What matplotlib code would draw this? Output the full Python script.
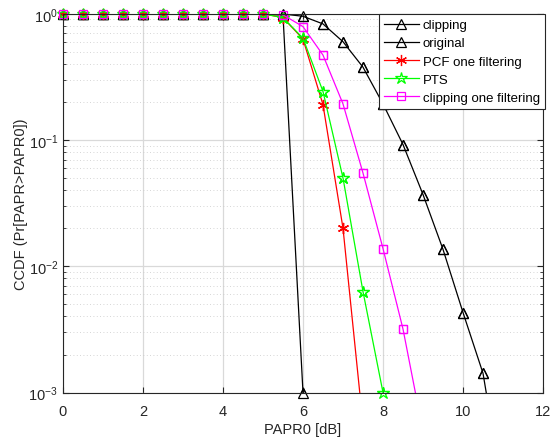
import matplotlib
matplotlib.use("Agg")
import matplotlib.pyplot as plt
import numpy as np

plt.rcParams['font.family'] = ['Liberation Sans', 'DejaVu Sans']
plt.rcParams['mathtext.fontset'] = 'custom'
plt.rcParams['mathtext.rm'] = 'Liberation Sans'

# clipping (steep drop at 6 dB)
x_clip = [0, 0.5, 1, 1.5, 2, 2.5, 3, 3.5, 4, 4.5, 5, 5.5, 6]
y_clip = [1, 1, 1, 1, 1, 1, 1, 1, 1, 1, 1, 0.97, 1e-3]

# original
x_orig = [0, 0.5, 1, 1.5, 2, 2.5, 3, 3.5, 4, 4.5, 5, 5.5, 6, 6.5, 7, 7.5, 8, 8.5, 9, 9.5, 10, 10.5, 11]
y_orig = [1, 1, 1, 1, 1, 1, 1, 1, 1, 1, 1, 0.995, 0.954, 0.83, 0.60, 0.377, 0.193, 0.092,
          0.037, 0.0136, 0.0043, 0.00142, 1.6e-4]

# PCF one filtering
x_pcf = [0, 0.5, 1, 1.5, 2, 2.5, 3, 3.5, 4, 4.5, 5, 5.5, 6, 6.5, 7, 7.5]
y_pcf = [1, 1, 1, 1, 1, 1, 1, 1, 1, 1, 1, 0.93, 0.63, 0.19, 0.020, 5.6e-4]

# PTS
x_pts = [0, 0.5, 1, 1.5, 2, 2.5, 3, 3.5, 4, 4.5, 5, 5.5, 6, 6.5, 7, 7.5, 8]
y_pts = [1, 1, 1, 1, 1, 1, 1, 1, 1, 1, 1, 0.93, 0.64, 0.242, 0.050, 0.0063, 1e-3]

# clipping one filtering
x_cof = [0, 0.5, 1, 1.5, 2, 2.5, 3, 3.5, 4, 4.5, 5, 5.5, 6, 6.5, 7, 7.5, 8, 8.5, 9]
y_cof = [1, 1, 1, 1, 1, 1, 1, 1, 1, 1, 1, 0.98, 0.79, 0.47, 0.193, 0.0547, 0.0138, 0.00318, 4.9e-4]

fig = plt.figure(figsize=(5.51, 4.39), dpi=100)
ax = fig.add_axes([0.1143, 0.1036, 0.8712, 0.8629])

lw = 0.9
series = [
    (x_clip, y_clip, 'k', '^', 7.5, 'none', 'clipping'),
    (x_orig, y_orig, 'k', '^', 7.5, 'none', 'original'),
    (x_pcf, y_pcf, 'r', (6, 2, 0), 8, 'r', 'PCF one filtering'),
    (x_pts, y_pts, (0, 1, 0), '*', 9, 'none', 'PTS'),
    (x_cof, y_cof, (1, 0, 1), 's', 5.5, 'none', 'clipping one filtering'),
]
for x, y, c, m, ms, mfc, lab in series:
    ax.semilogy(x, y, '-', marker=m, color=c, lw=lw, ms=ms, mfc=mfc, mew=0.9, label=lab)
    # markers inside the limits drawn unclipped, like MATLAB
    x = np.array(x)
    y = np.array(y)
    keep = y >= 1e-3
    ax.semilogy(x[keep], y[keep], ls='none', marker=m, color=c, ms=ms, mfc=mfc, mew=0.9, clip_on=False)

ax.set_xlim(0, 12)
ax.set_ylim(1e-3, 1)
ax.set_xticks([0, 2, 4, 6, 8, 10, 12])
ax.grid(True, which='major', color='#d9d9d9', lw=0.9, ls='-')
ax.grid(True, which='minor', axis='y', color='#c8c8c8', lw=0.6, ls=(0, (1, 3)))
ax.set_axisbelow(True)

ax.tick_params(which='both', direction='in', top=True, right=True, labelsize=10.5, colors='#262626')
ax.tick_params(which='major', length=4)
ax.tick_params(which='minor', length=2.5)
ax.tick_params(axis='x', pad=8)
for s in ax.spines.values():
    s.set_color('#262626')
    s.set_linewidth(0.8)

ax.set_xlabel('PAPR0 [dB]', fontsize=10.5, color='#262626', labelpad=3)
ax.set_ylabel('CCDF (Pr[PAPR>PAPR0])', fontsize=10.5, color='#262626', labelpad=0.5)

leg = ax.legend(loc='upper right', bbox_to_anchor=(1.004, 1.0), borderaxespad=0, fontsize=9.5,
                fancybox=False, framealpha=1, edgecolor='#262626', handlelength=2.6,
                labelspacing=0.45, borderpad=0.4, handletextpad=0.3)
leg.get_frame().set_linewidth(0.8)
leg.set_zorder(5)

fig.savefig('out.png', dpi=100)
